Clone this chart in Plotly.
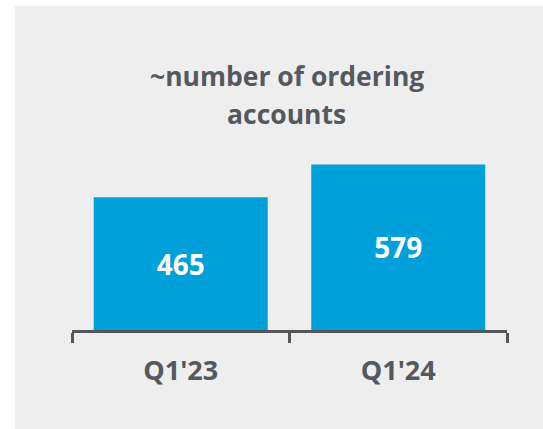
import plotly.graph_objects as go

categories = ["Q1'23", "Q1'24"]
values = [465, 579]
value_labels = ["465", "579"]
title_lines = ["~number of ordering", "accounts"]

W, H = 543, 429
L, R, T, B = 72, 36, 130, 99
plot_h = H - T - B
plot_w = W - L - R

def px_to_paper_x(px):
    return (px - L) / plot_w

def px_to_paper_y(py):
    return (H - B - py) / plot_h

grey_text = "#54595f"
bar_color = "#00a0da"
font_family = "Open Sans"

fig = go.Figure(
    go.Bar(
        x=categories,
        y=values,
        text=value_labels,
        textposition="inside",
        insidetextanchor="middle",
        textfont=dict(family=font_family, size=28, color="white", weight="bold"),
        marker=dict(color=bar_color, line=dict(width=0)),
        width=0.8,
        hoverinfo="skip",
    )
)

title_y_px = [76.5, 113.5]
annotations = [
    dict(
        text=line,
        x=px_to_paper_x(286.5),
        y=px_to_paper_y(ypx),
        xref="paper",
        yref="paper",
        xanchor="center",
        yanchor="middle",
        showarrow=False,
        font=dict(family=font_family, size=26.5, color=grey_text, weight="bold"),
    )
    for line, ypx in zip(title_lines, title_y_px)
]

fig.update_layout(
    width=W,
    height=H,
    margin=dict(l=L, r=R, t=T, b=B, pad=0),
    paper_bgcolor="#eeeeee",
    plot_bgcolor="#eeeeee",
    showlegend=False,
    xaxis=dict(
        type="category",
        range=[-0.5, 1.5],
        showline=True,
        linecolor="#53575c",
        linewidth=3,
        ticks="outside",
        tickson="boundaries",
        ticklen=10,
        tickwidth=3,
        tickcolor="#53575c",
        ticklabelstandoff=15,
        tickfont=dict(family=font_family, size=27, color=grey_text, weight="bold"),
        showgrid=False,
        zeroline=False,
        fixedrange=True,
    ),
    yaxis=dict(
        range=[0, 700],
        visible=False,
        showgrid=False,
        zeroline=False,
        fixedrange=True,
    ),
    annotations=annotations,
    shapes=[
        # white border strips at left and top of the grey panel
        dict(type="rect", xref="paper", yref="paper",
             x0=px_to_paper_x(0), x1=px_to_paper_x(15),
             y0=px_to_paper_y(H), y1=px_to_paper_y(0),
             fillcolor="white", line=dict(width=0), layer="below"),
        dict(type="rect", xref="paper", yref="paper",
             x0=px_to_paper_x(0), x1=px_to_paper_x(W),
             y0=px_to_paper_y(6), y1=px_to_paper_y(0),
             fillcolor="white", line=dict(width=0), layer="below"),
    ],
)

fig.write_html(
    "out.html",
    config={"displayModeBar": False},
    post_script="document.body.style.margin='0';document.body.style.overflow='hidden';",
)
